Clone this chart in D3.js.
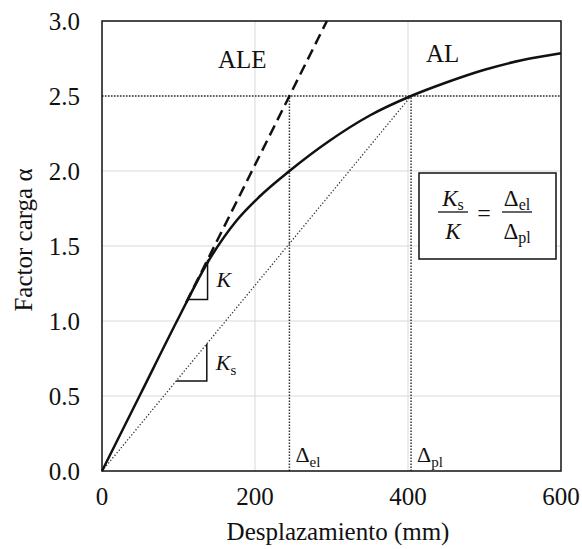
<!DOCTYPE html>
<html>
<head>
<meta charset="utf-8">
<script src="https://cdn.jsdelivr.net/npm/d3@7"></script>
<style>
  body { margin: 0; background: #fff; }
  svg text { font-family: 'Liberation Serif', 'Times New Roman', serif; fill: #111; }
</style>
</head>
<body>
<div id="chart"></div>
<script>
// curve
var dispData = [0, 50, 100, 138, 176, 206, 245, 297, 350, 404, 450, 500, 550, 600];
var alphaData = [0, 0.51, 1.02, 1.39, 1.67, 1.83, 2.00, 2.20, 2.37, 2.50, 2.59, 2.675, 2.74, 2.785];

var xTicks = [0, 200, 400, 600];
var yTicks = [0, 0.5, 1.0, 1.5, 2.0, 2.5, 3.0];

var deltaEl = 245;   // elastic displacement at AL
var deltaPl = 404;   // plastic displacement at AL
var alphaL = 2.5;    // load factor AL
var dashStart = 110; // where the elastic dashed line starts
var kTri = [112, 138];
var ksTri = [97, 137];

var width = 582, height = 549;

var x = d3.scaleLinear().domain([0, 600]).range([102, 561]);
var y = d3.scaleLinear().domain([0, 3]).range([471, 21]);

var K = alphaL / deltaEl;
var Ks = alphaL / deltaPl;

var svg = d3.select("#chart").append("svg")
    .attr("width", width)
    .attr("height", height)
    .attr("font-family", "'Liberation Serif', serif");

// grid
svg.selectAll(".gx").data([200, 400]).enter().append("line")
    .attr("x1", d => x(d)).attr("x2", d => x(d))
    .attr("y1", y(0)).attr("y2", y(3))
    .attr("stroke", "#d9d9d9").attr("stroke-width", 1);

svg.selectAll(".gy").data([0.5, 1.0, 1.5, 2.0, 2.5]).enter().append("line")
    .attr("x1", x(0)).attr("x2", x(600))
    .attr("y1", d => y(d)).attr("y2", d => y(d))
    .attr("stroke", "#d9d9d9").attr("stroke-width", 1);

// dotted guides
var dotted = [
    [[0, alphaL], [600, alphaL]],
    [[deltaEl, 0], [deltaEl, alphaL]],
    [[deltaPl, 0], [deltaPl, alphaL]]
];
svg.selectAll(".dot").data(dotted).enter().append("line")
    .attr("x1", d => x(d[0][0])).attr("y1", d => y(d[0][1]))
    .attr("x2", d => x(d[1][0])).attr("y2", d => y(d[1][1]))
    .attr("stroke", "#333").attr("stroke-width", 1.5)
    .attr("stroke-dasharray", "1.5,1.5");

// secant stiffness
svg.append("line")
    .attr("x1", x(0)).attr("y1", y(0))
    .attr("x2", x(deltaPl)).attr("y2", y(alphaL))
    .attr("stroke", "#333").attr("stroke-width", 1.3)
    .attr("stroke-dasharray", "1.3,2");

// elastic dashed line
var yMaxDash = 3;
svg.append("line")
    .attr("x1", x(dashStart)).attr("y1", y(dashStart * K))
    .attr("x2", x(yMaxDash / K)).attr("y2", y(yMaxDash))
    .attr("stroke", "#111").attr("stroke-width", 2.5)
    .attr("stroke-dasharray", "11,6");

// response curve
var pts = dispData.map((d, i) => [d, alphaData[i]]);
var line = d3.line()
    .x(d => x(d[0]))
    .y(d => y(d[1]))
    .curve(d3.curveMonotoneX);

svg.append("path")
    .attr("d", line(pts))
    .attr("fill", "none")
    .attr("stroke", "#111")
    .attr("stroke-width", 2.5);

// slope triangles
function tri(a, slope) {
    return "M" + x(a[0]) + "," + y(a[0] * slope) +
        "L" + x(a[1]) + "," + y(a[0] * slope) +
        "L" + x(a[1]) + "," + y(a[1] * slope);
}
svg.append("path").attr("d", tri(kTri, K))
    .attr("fill", "none").attr("stroke", "#111").attr("stroke-width", 1.5);
svg.append("path").attr("d", tri(ksTri, Ks))
    .attr("fill", "none").attr("stroke", "#111").attr("stroke-width", 1.5);

svg.append("text")
    .attr("x", x(kTri[1]) + 9).attr("y", y(kTri[1] * K) + 27)
    .attr("font-size", 22).attr("font-style", "italic")
    .text("K");

var ksLabel = svg.append("text")
    .attr("x", x(ksTri[1]) + 9).attr("y", y(ksTri[1] * Ks) + 26)
    .attr("font-size", 22);
ksLabel.append("tspan").attr("font-style", "italic").text("K");
ksLabel.append("tspan").attr("font-size", 15).attr("dy", 5).text("s");

// frame
svg.append("rect")
    .attr("x", x(0)).attr("y", y(3))
    .attr("width", x(600) - x(0)).attr("height", y(0) - y(3))
    .attr("fill", "none").attr("stroke", "#111").attr("stroke-width", 1.5);

// tick labels
svg.selectAll(".xl").data(xTicks).enter().append("text")
    .attr("x", d => x(d)).attr("y", 505)
    .attr("text-anchor", "middle")
    .attr("font-size", 25)
    .text(d => d);

svg.selectAll(".yl").data(yTicks).enter().append("text")
    .attr("x", 80).attr("y", d => y(d) + 8.5)
    .attr("text-anchor", "end")
    .attr("font-size", 25)
    .text(d => d.toFixed(1));

// axis titles
svg.append("text")
    .attr("x", 338).attr("y", 540)
    .attr("text-anchor", "middle")
    .attr("font-size", 25)
    .text("Desplazamiento (mm)");

svg.append("text")
    .attr("transform", "translate(32,240) rotate(-90)")
    .attr("text-anchor", "middle")
    .attr("font-size", 25)
    .text("Factor carga α");

// labels
svg.append("text").attr("x", 218).attr("y", 68)
    .attr("font-size", 25).text("ALE");
svg.append("text").attr("x", 426).attr("y", 62)
    .attr("font-size", 25).text("AL");

function deltaLabel(xv, sub) {
    var t = svg.append("text")
        .attr("x", x(xv) + 6).attr("y", 462)
        .attr("font-size", 22);
    t.append("tspan").text("Δ");
    t.append("tspan").attr("font-size", 15).attr("dy", 5).text(sub);
}
deltaLabel(deltaEl, "el");
deltaLabel(deltaPl, "pl");

// ratio box
var box = svg.append("g");
box.append("rect")
    .attr("x", 419).attr("y", 173)
    .attr("width", 137).attr("height", 86)
    .attr("fill", "#fff").attr("stroke", "#111").attr("stroke-width", 1.5);

function frac(cx, top, bot) {
    var n = box.append("text").attr("x", cx).attr("y", 206)
        .attr("text-anchor", "middle").attr("font-size", 23);
    n.append("tspan").attr("font-style", top.italic ? "italic" : null).text(top.main);
    if (top.sub) n.append("tspan").attr("font-size", 16).attr("dy", 4).text(top.sub);
    var d = box.append("text").attr("x", cx).attr("y", 239)
        .attr("text-anchor", "middle").attr("font-size", 23);
    d.append("tspan").attr("font-style", bot.italic ? "italic" : null).text(bot.main);
    if (bot.sub) d.append("tspan").attr("font-size", 16).attr("dy", 4).text(bot.sub);
    box.append("line")
        .attr("x1", cx - 15).attr("x2", cx + 15)
        .attr("y1", 212).attr("y2", 212)
        .attr("stroke", "#111").attr("stroke-width", 1.3);
}
frac(453, {main: "K", sub: "s", italic: true}, {main: "K", italic: true});
frac(517, {main: "Δ", sub: "el"}, {main: "Δ", sub: "pl"});
box.append("text").attr("x", 484).attr("y", 221)
    .attr("text-anchor", "middle").attr("font-size", 24).text("=");
</script>
</body>
</html>
